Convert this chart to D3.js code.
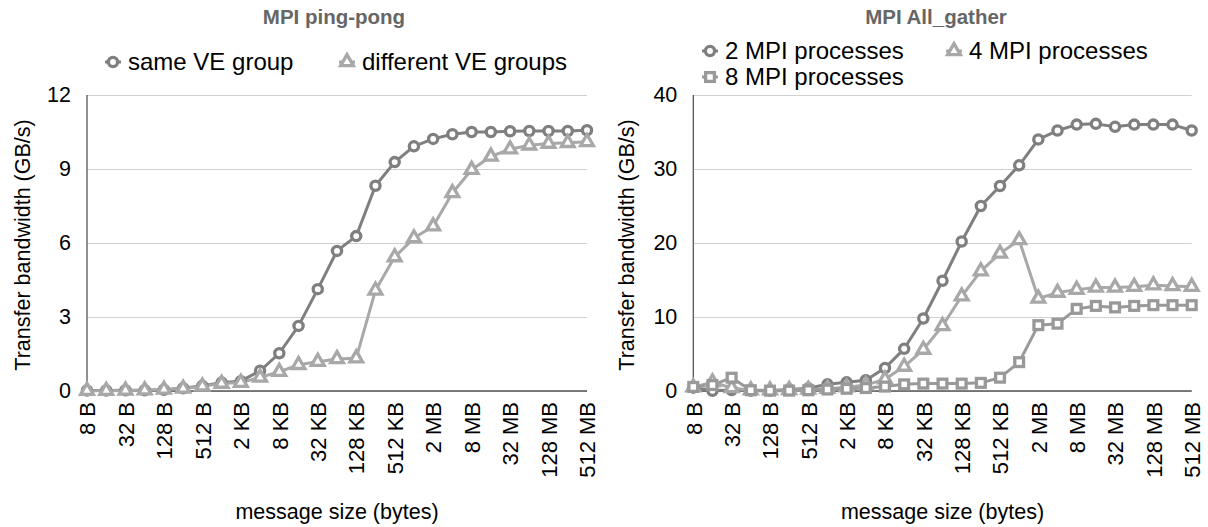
<!DOCTYPE html>
<html>
<head>
<meta charset="utf-8">
<script src="https://cdn.jsdelivr.net/npm/d3@7"></script>
<style>
  html, body { margin: 0; padding: 0; background: #fff; }
  svg { display: block; font-family: "Liberation Sans", Arial, Helvetica, sans-serif; }
</style>
</head>
<body>
<svg id="chart" width="1208" height="527"></svg>
<script>
// ---- data ----
const categories = ["8 B","16 B","32 B","64 B","128 B","256 B","512 B",
  "1 KB","2 KB","4 KB","8 KB","16 KB","32 KB","64 KB","128 KB","256 KB","512 KB",
  "1 MB","2 MB","4 MB","8 MB","16 MB","32 MB","64 MB","128 MB","256 MB","512 MB"];
const tickLabels = ["8 B","32 B","128 B","512 B","2 KB","8 KB","32 KB","128 KB","512 KB","2 MB","8 MB","32 MB","128 MB","512 MB"];

const pingSameVE = [0.02,0.02,0.03,0.03,0.05,0.11,0.21,0.34,0.40,0.82,1.53,2.64,4.13,5.68,6.28,8.32,9.28,9.92,10.22,10.41,10.50,10.50,10.53,10.54,10.54,10.54,10.57];
const pingDiffVE = [0.01,0.01,0.02,0.03,0.06,0.10,0.19,0.30,0.34,0.55,0.78,1.06,1.19,1.30,1.33,4.08,5.43,6.20,6.68,8.03,8.97,9.51,9.80,9.96,10.03,10.06,10.10];

const gather2 = [0.45,0.02,0.14,0.05,0.05,0.22,0.36,0.90,1.17,1.45,3.10,5.70,9.80,14.9,20.2,25.0,27.7,30.5,34.0,35.2,36.0,36.1,35.7,36.0,36.0,36.0,35.2];
const gather4 = [0.50,1.20,0.40,0.10,0.10,0.15,0.20,0.30,0.50,0.80,1.60,3.30,5.60,8.80,12.8,16.2,18.6,20.4,12.5,13.3,13.7,14.0,14.0,14.1,14.3,14.2,14.1];
const gather8 = [0.55,0.80,1.80,0.10,0.05,0.05,0.10,0.20,0.30,0.40,0.60,0.90,1.00,1.00,1.00,1.10,1.80,3.90,8.90,9.10,11.1,11.5,11.3,11.5,11.6,11.6,11.6];

const pingTicks = [0,3,6,9,12];
const gatherTicks = [0,10,20,30,40];

// ---- styles ----
const C_CIRCLE = "#7f7f7f", C_TRI = "#a8a8a8", C_SQ = "#999999";
const FONT = "Liberation Sans, Arial, Helvetica, sans-serif";
const svg = d3.select("#chart");

function marker(g, shape, color, x, y) {
  if (shape === "circle") {
    g.append("circle").attr("cx", x).attr("cy", y).attr("r", 4.6)
      .attr("fill", "#fff").attr("stroke", color).attr("stroke-width", 3.3);
  } else if (shape === "triangle") {
    g.append("path").attr("d", d3.symbol(d3.symbolTriangle, 70)())
      .attr("transform", `translate(${x},${y})`)
      .attr("fill", "#fff").attr("stroke", color).attr("stroke-width", 3.3).attr("stroke-linejoin", "miter");
  } else {
    g.append("rect").attr("x", x - 4.4).attr("y", y - 4.4).attr("width", 8.8).attr("height", 8.8)
      .attr("fill", "#fff").attr("stroke", color).attr("stroke-width", 3.3);
  }
}

function panel(cfg) {
  const x = d3.scalePoint().domain(categories).range([cfg.x0, cfg.x1]).padding(0);
  const y = d3.scaleLinear().domain([0, cfg.ticks[cfg.ticks.length - 1]]).range([391, 95]);
  const g = svg.append("g");

  // grid + y ticks
  const yAxis = d3.axisLeft(y).tickValues(cfg.ticks).tickSize(-(cfg.x1 - cfg.x0)).tickPadding(16).tickFormat(d3.format("d"));
  const ga = g.append("g").attr("transform", `translate(${cfg.x0},0)`).call(yAxis);
  ga.select(".domain").remove();
  ga.selectAll(".tick line").attr("stroke", "#d0d0d0").attr("stroke-width", 1.2);
  ga.selectAll(".tick text").attr("font-size", 21.5).attr("fill", "#000").attr("font-family", FONT);
  // axis lines
  g.append("line").attr("x1", cfg.x0).attr("x2", cfg.x0).attr("y1", 95).attr("y2", 391).attr("stroke", "#555").attr("stroke-width", 1.3);
  g.append("line").attr("x1", cfg.x0).attr("x2", cfg.x1).attr("y1", 391).attr("y2", 391).attr("stroke", "#555").attr("stroke-width", 1.3);

  // x axis
  const xAxis = d3.axisBottom(x).tickValues(tickLabels).tickSize(0).tickPadding(0);
  const gx = g.append("g").attr("transform", "translate(0,391)").call(xAxis);
  gx.select(".domain").remove();
  gx.selectAll(".tick text")
    .attr("font-size", 22).attr("fill", "#000").attr("font-family", FONT)
    .attr("transform", "rotate(-90)").attr("text-anchor", "end")
    .attr("x", -11).attr("y", 0).attr("dy", "0.35em");

  // axis titles
  g.append("text").attr("x", (cfg.x0 + cfg.x1) / 2).attr("y", 519).attr("text-anchor", "middle")
    .attr("font-size", 21.5).text("message size (bytes)");
  g.append("text").attr("transform", `translate(${cfg.ylabX},245) rotate(-90)`).attr("text-anchor", "middle")
    .attr("dy", "0.35em").attr("font-size", 21.5).text("Transfer bandwidth (GB/s)");

  // title
  g.append("text").attr("x", cfg.titleX).attr("y", 24).attr("text-anchor", "middle")
    .attr("font-size", 20.5).attr("font-weight", "bold").attr("fill", "#666").text(cfg.title);

  // series
  const line = d3.line().x((d, i) => x(categories[i])).y(d => y(d));
  cfg.series.forEach(s => {
    g.append("path").datum(s.values).attr("d", line).attr("fill", "none")
      .attr("stroke", s.color).attr("stroke-width", 3).attr("stroke-linejoin", "round");
  });
  cfg.series.forEach(s => {
    s.values.forEach((v, i) => marker(g, s.shape, s.color, x(categories[i]), y(v)));
  });

  // legend
  cfg.series.forEach(s => {
    const lg = g.append("g");
    lg.append("line").attr("x1", s.lx - 8).attr("x2", s.lx + 8).attr("y1", s.ly).attr("y2", s.ly)
      .attr("stroke", s.color).attr("stroke-width", 3);
    marker(lg, s.shape, s.color, s.lx, s.ly);
    lg.append("text").attr("x", s.lx + 15).attr("y", s.ly).attr("dy", "0.35em")
      .attr("font-size", 24).attr("fill", "#000").text(s.name);
  });
}

panel({
  title: "MPI ping-pong", titleX: 334, x0: 87, x1: 587, ticks: pingTicks, ylabX: 22,
  series: [
    { name: "same VE group", values: pingSameVE, shape: "circle", color: C_CIRCLE, lx: 113, ly: 62 },
    { name: "different VE groups", values: pingDiffVE, shape: "triangle", color: C_TRI, lx: 347, ly: 62 }
  ]
});
panel({
  title: "MPI All_gather", titleX: 936, x0: 693.3, x1: 1191.7, ticks: gatherTicks, ylabX: 626,
  series: [
    { name: "2 MPI processes", values: gather2, shape: "circle", color: C_CIRCLE, lx: 710, ly: 51 },
    { name: "4 MPI processes", values: gather4, shape: "triangle", color: C_TRI, lx: 954, ly: 51 },
    { name: "8 MPI processes", values: gather8, shape: "square", color: C_SQ, lx: 710, ly: 77 }
  ]
});
</script>
</body>
</html>
